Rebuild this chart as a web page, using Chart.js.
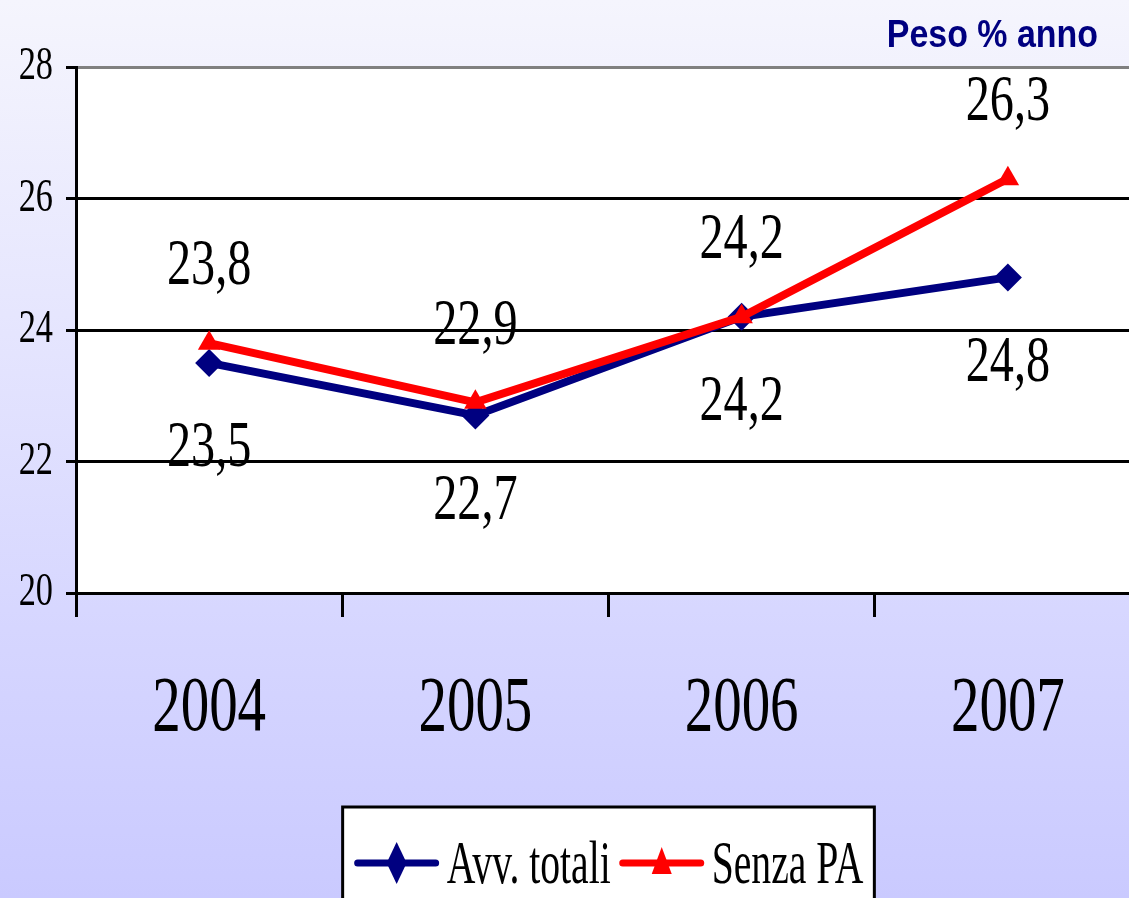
<!DOCTYPE html>
<html>
<head>
<meta charset="utf-8">
<title>Peso % anno</title>
<script src="https://cdn.jsdelivr.net/npm/chart.js@4/dist/chart.umd.min.js"></script>
<style>
    html, body { margin: 0; padding: 0; }
    #wrap {
        width: 1129px;
        height: 898px;
        overflow: hidden;
        background: linear-gradient(to bottom, #f5f5fd 0%, #e6e6fe 35%, #d6d6ff 70%, #cacaff 100%);
    }
    canvas { display: block; }
</style>
</head>
<body>
<div id="wrap">
    <!-- plot area runs past the right edge in the original, so the canvas is wider than the window -->
    <canvas id="chart" width="1155" height="898"></canvas>
</div>
<script>
// Chart data
const years = ['2004', '2005', '2006', '2007'];
const avvTotali = [23.5, 22.7, 24.2, 24.8];
const senzaPA = [23.8, 22.9, 24.2, 26.3];
const seriesNames = ['Avv. totali', 'Senza PA'];
const yTicks = [20, 22, 24, 26, 28];
const titleText = 'Peso % anno';

const serif = "'Liberation Serif', 'Times New Roman', serif";
const navy = '#000080';
const red = '#ff0000';

// the original text is horizontally condensed, so squeeze serif text when drawing
let squeeze = 0.73;

function formatValue(v) {
    return v.toFixed(1).replace('.', ',');
}

const condensedText = {
    id: 'condensedText',
    beforeInit(chart) {
        const ctx = chart.ctx;
        const rawFill = ctx.fillText;
        const rawMeasure = ctx.measureText;
        ctx.fillText = function(text, x, y, maxWidth) {
            if (this.font.indexOf('Liberation Serif') < 0) {
                return rawFill.call(this, text, x, y);
            }
            this.save();
            this.translate(x, y);
            this.scale(squeeze, 1);
            rawFill.call(this, text, 0, 0);
            this.restore();
        };
        ctx.measureText = function(text) {
            const m = rawMeasure.call(this, text);
            if (this.font.indexOf('Liberation Serif') < 0) return m;
            return { width: m.width * squeeze };
        };
    }
};

const plotBackground = {
    id: 'plotBackground',
    beforeDraw(chart) {
        const { ctx, chartArea } = chart;
        ctx.save();
        ctx.fillStyle = '#ffffff';
        ctx.fillRect(chartArea.left, chartArea.top, chartArea.right - chartArea.left, chartArea.bottom - chartArea.top);
        ctx.restore();
    }
};

const valueLabels = {
    id: 'valueLabels',
    afterDatasetsDraw(chart) {
        const ctx = chart.ctx;
        ctx.save();
        ctx.font = '66px ' + serif;
        ctx.fillStyle = '#000';
        ctx.textAlign = 'center';
        ctx.textBaseline = 'middle';
        chart.data.datasets.forEach((ds, di) => {
            const meta = chart.getDatasetMeta(di);
            meta.data.forEach((pt, i) => {
                const shift = ds.labelSide === 'above' ? -76 : 86;
                ctx.fillText(formatValue(ds.data[i]), pt.x, pt.y + shift);
            });
        });
        ctx.restore();
    }
};

const sideDecor = {
    id: 'sideDecor',
    afterDraw(chart) {
        const { ctx, chartArea } = chart;

        // title, top right
        ctx.save();
        ctx.font = 'bold 39px "Liberation Sans", Arial, sans-serif';
        ctx.fillStyle = navy;
        ctx.textAlign = 'right';
        ctx.textBaseline = 'alphabetic';
        ctx.translate(chartArea.right - 43, 47);
        ctx.scale(0.87, 1);
        ctx.fillText(titleText, 0, 0);
        ctx.restore();

        // legend box with line + marker samples
        ctx.save();
        squeeze = 0.65;
        ctx.font = '61px ' + serif;
        const lineLen = 78;
        const items = chart.data.datasets.map(ds => ({
            ds: ds,
            w: ctx.measureText(ds.label).width
        }));
        let total = 0;
        items.forEach((it, i) => {
            total += lineLen + 11 + it.w + (i < items.length - 1 ? 12 : 0);
        });
        const boxW = total + 26;
        const boxLeft = (chartArea.left + chartArea.right) / 2 - boxW / 2;
        const boxTop = 807;
        ctx.fillStyle = '#ffffff';
        ctx.fillRect(boxLeft, boxTop, boxW, 200);
        ctx.strokeStyle = '#000';
        ctx.lineWidth = 3;
        ctx.strokeRect(boxLeft, boxTop, boxW, 200);

        let x = boxLeft + 15;
        const lineY = boxTop + 56;
        items.forEach(it => {
            const ds = it.ds;
            ctx.strokeStyle = ds.borderColor;
            ctx.lineWidth = 7;
            ctx.lineCap = 'round';
            ctx.beginPath();
            ctx.moveTo(x, lineY);
            ctx.lineTo(x + lineLen, lineY);
            ctx.stroke();
            const cx = x + lineLen / 2;
            ctx.fillStyle = ds.borderColor;
            ctx.beginPath();
            if (ds.pointStyle === 'rectRot') {
                ctx.moveTo(cx, lineY - 21);
                ctx.lineTo(cx + 10, lineY);
                ctx.lineTo(cx, lineY + 21);
                ctx.lineTo(cx - 10, lineY);
            } else {
                ctx.moveTo(cx, lineY - 16);
                ctx.lineTo(cx + 10, lineY + 11);
                ctx.lineTo(cx - 10, lineY + 11);
            }
            ctx.closePath();
            ctx.fill();
            x += lineLen + 11;
            ctx.fillStyle = '#000';
            ctx.textAlign = 'left';
            ctx.textBaseline = 'alphabetic';
            ctx.fillText(ds.label, x, boxTop + 76);
            x += it.w + 12;
        });
        squeeze = 0.73;
        ctx.restore();
    }
};

const ctx = document.getElementById('chart').getContext('2d');
new Chart(ctx, {
    type: 'line',
    data: {
        labels: years,
        datasets: [{
            label: seriesNames[0],
            data: avvTotali,
            borderColor: navy,
            backgroundColor: navy,
            borderWidth: 8,
            pointStyle: 'rectRot',
            pointRadius: 14,
            pointBorderWidth: 0,
            tension: 0,
            order: 2,
            labelSide: 'below'
        }, {
            label: seriesNames[1],
            data: senzaPA,
            borderColor: red,
            backgroundColor: red,
            borderWidth: 8,
            pointStyle: 'triangle',
            pointRadius: 13,
            pointBorderWidth: 0,
            tension: 0,
            order: 1,
            labelSide: 'above'
        }]
    },
    options: {
        responsive: false,
        animation: false,
        layout: { padding: { top: 67, right: 0, left: 0, bottom: 0 } },
        plugins: {
            legend: { display: false },
            title: { display: false },
            tooltip: { enabled: false }
        },
        scales: {
            x: {
                offset: true,
                afterFit(scale) { scale.height = 305; },
                grid: {
                    offset: true,
                    drawOnChartArea: false,
                    color: '#000',
                    lineWidth: 3,
                    tickLength: 24
                },
                border: { color: '#000', width: 3 },
                ticks: {
                    color: '#000',
                    padding: 46,
                    maxRotation: 0,
                    autoSkip: false,
                    font: { family: serif, size: 78 }
                }
            },
            y: {
                min: yTicks[0],
                max: yTicks[yTicks.length - 1],
                afterFit(scale) { scale.width = 76; },
                afterBuildTicks(scale) {
                    scale.ticks = yTicks.map(v => ({ value: v }));
                },
                grid: {
                    color: c => (c.tick && c.tick.value === 28 ? '#808080' : '#000'),
                    tickColor: '#000',
                    lineWidth: 3,
                    tickLength: 10
                },
                border: { color: '#000', width: 3 },
                ticks: {
                    color: '#000',
                    padding: 13,
                    font: { family: serif, size: 47 }
                }
            }
        }
    },
    plugins: [condensedText, plotBackground, valueLabels, sideDecor]
});
</script>
</body>
</html>
